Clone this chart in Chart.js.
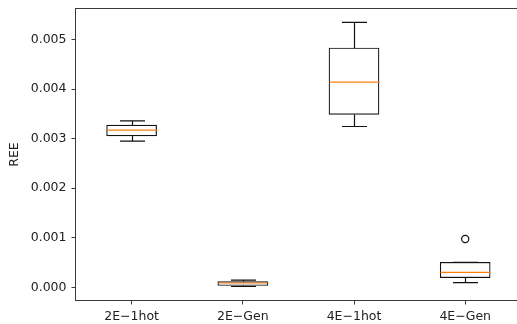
<!DOCTYPE html>
<html>
<head>
<meta charset="utf-8">
<script src="https://cdn.jsdelivr.net/npm/chart.js"></script>
<style>
  html, body { margin: 0; padding: 0; background: #fff; overflow: hidden; }
  #wrap { width: 517px; height: 324px; overflow: hidden; position: relative; }
  canvas { display: block; }
</style>
</head>
<body>
<div id="wrap"><canvas id="reeChart" width="526" height="324"></canvas></div>
<script>
// Box plot statistics per configuration
const categories = ['2E\u22121hot', '2E\u2212Gen', '4E\u22121hot', '4E\u2212Gen'];
const whiskerLow  = [0.002950, 0.000016, 0.003246, 0.000093];
const q1          = [0.003056, 0.000036, 0.003488, 0.000194];
const median      = [0.003171, 0.000087, 0.004140, 0.000302];
const q3          = [0.003272, 0.000117, 0.004830, 0.000504];
const whiskerHigh = [0.003359, 0.000147, 0.005349, 0.000504];
const outliers    = [null, null, null, 0.000974];

const yTicks = [0, 0.001, 0.002, 0.003, 0.004, 0.005];
const yMin = -0.000256;
const yMax = 0.005617;

const lineColor = '#3a3a3a';
const textFont = { family: 'DejaVu Sans', size: 12.5 };

// whiskers, caps and median lines drawn on top of the boxes
const boxExtras = {
    id: 'boxExtras',
    afterDatasetsDraw(chart) {
        const ctx = chart.ctx;
        const xs = chart.scales.x, ys = chart.scales.y;
        const bars = chart.getDatasetMeta(0).data;
        ctx.save();
        categories.forEach(function (c, i) {
            const x = Math.round(xs.getPixelForValue(i)) + 0.5;
            const half = bars[i].width / 2;
            const capHalf = half / 2;
            ctx.strokeStyle = '#111';
            ctx.lineWidth = 1.2;
            ctx.beginPath();
            // lower whisker + cap
            ctx.moveTo(x, ys.getPixelForValue(q1[i]));
            ctx.lineTo(x, ys.getPixelForValue(whiskerLow[i]));
            ctx.moveTo(x - capHalf, ys.getPixelForValue(whiskerLow[i]));
            ctx.lineTo(x + capHalf, ys.getPixelForValue(whiskerLow[i]));
            // upper whisker + cap
            ctx.moveTo(x, ys.getPixelForValue(q3[i]));
            ctx.lineTo(x, ys.getPixelForValue(whiskerHigh[i]));
            ctx.moveTo(x - capHalf, ys.getPixelForValue(whiskerHigh[i]));
            ctx.lineTo(x + capHalf, ys.getPixelForValue(whiskerHigh[i]));
            ctx.stroke();
            // median
            ctx.strokeStyle = '#ff7f0e';
            ctx.beginPath();
            const ym = ys.getPixelForValue(median[i]);
            ctx.moveTo(x - half, ym);
            ctx.lineTo(x + half, ym);
            ctx.stroke();
        });
        ctx.restore();
    },
    afterDraw(chart) {
        // frame around the plot area
        const a = chart.chartArea;
        const ctx = chart.ctx;
        ctx.save();
        ctx.strokeStyle = lineColor;
        ctx.lineWidth = 1;
        ctx.strokeRect(Math.round(a.left) - 0.5, Math.round(a.top) - 0.5,
            Math.round(a.right - a.left) + 1, Math.round(a.bottom - a.top) + 1);
        ctx.restore();
    }
};

const ctx = document.getElementById('reeChart').getContext('2d');
const chart = new Chart(ctx, {
    type: 'bar',
    data: {
        labels: categories,
        datasets: [
            {
                label: 'box',
                data: categories.map((c, i) => [q1[i], q3[i]]),
                backgroundColor: '#ffffff',
                borderColor: '#111',
                borderWidth: 1.2,
                borderSkipped: false,
                barThickness: 50,
                order: 2,
            },
            {
                type: 'line',
                label: 'outliers',
                data: outliers,
                showLine: false,
                pointStyle: 'circle',
                pointRadius: 3.6,
                pointBorderWidth: 1.2,
                pointBorderColor: '#111',
                pointBackgroundColor: 'rgba(0,0,0,0)',
                order: 1,
            },
        ],
    },
    options: {
        responsive: false,
        animation: false,
        layout: { padding: { top: 9, right: 2, left: 0, bottom: 0 } },
        plugins: {
            legend: { display: false },
            tooltip: { enabled: false },
        },
        scales: {
            x: {
                offset: true,
                border: { display: false },
                grid: {
                    offset: false,
                    drawOnChartArea: false,
                    drawTicks: true,
                    tickLength: 4.5,
                    color: lineColor,
                },
                ticks: { color: '#222', font: textFont, padding: 5, maxRotation: 0 },
                afterFit(scale) {
                    scale.height = 24;
                    scale.paddingLeft = 0;
                    scale.paddingRight = 0;
                },
            },
            y: {
                min: yMin,
                max: yMax,
                border: { display: false },
                grid: {
                    drawOnChartArea: false,
                    drawTicks: true,
                    tickLength: 4.5,
                    color: lineColor,
                },
                ticks: {
                    color: '#222',
                    font: textFont,
                    padding: 5,
                    callback: (v) => v.toFixed(3),
                },
                afterBuildTicks(scale) {
                    scale.ticks = yTicks.map(v => ({ value: v }));
                },
                afterFit(scale) {
                    scale.width = 76;
                    scale.paddingTop = 0;
                    scale.paddingBottom = 0;
                },
                title: {
                    display: true,
                    text: 'REE',
                    color: '#222',
                    font: textFont,
                    padding: { top: 7, bottom: 0 },
                },
            },
        },
    },
    plugins: [boxExtras],
});
</script>
</body>
</html>
